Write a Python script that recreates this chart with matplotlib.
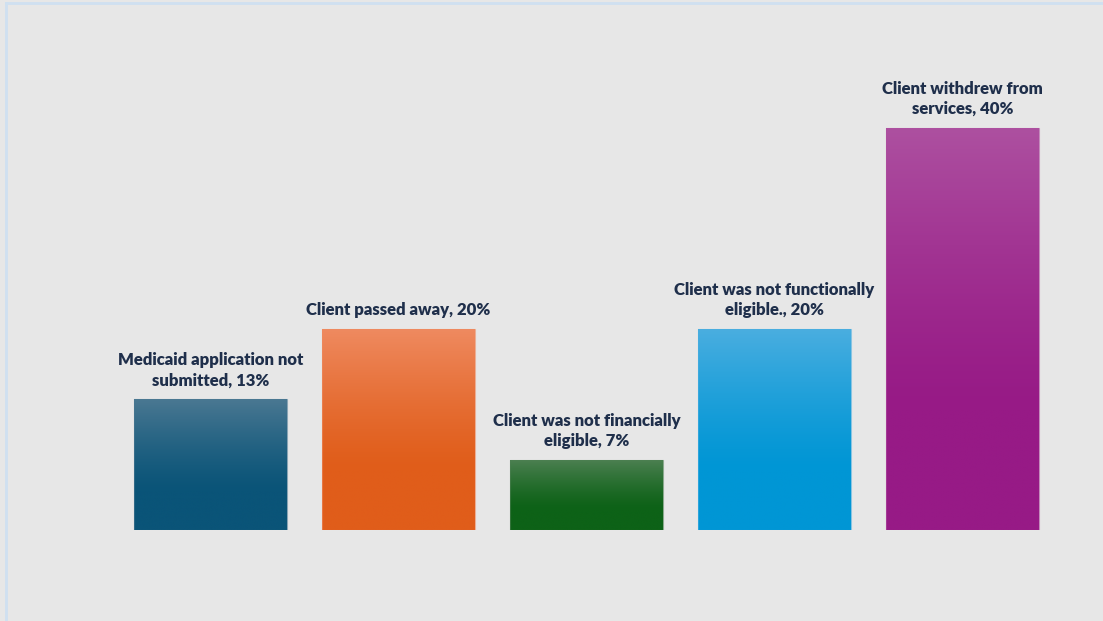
import matplotlib
matplotlib.use("Agg")
import matplotlib.pyplot as plt
import numpy as np
from matplotlib.colors import ListedColormap, to_rgb
from matplotlib.patches import Rectangle
from matplotlib.lines import Line2D

categories = ["Medicaid application not\nsubmitted",
              "Client passed away",
              "Client was not financially\neligible",
              "Client was not functionally\neligible.",
              "Client withdrew from\nservices"]
values = [13, 20, 7, 20, 40]
top_colors = ["#4a7892", "#ef8a60", "#4d8052", "#4aaee0", "#ad50a0"]
bottom_colors = ["#0a5478", "#e05d1a", "#0d6217", "#0096d5", "#971a86"]

plt.rcParams['font.family'] = ['Lato', 'DejaVu Sans']

W, H = 1103, 621
fig = plt.figure(figsize=(W / 100, H / 100), dpi=100)
fig.patch.set_facecolor("#e7e7e7")

# light blue frame (left and top)
fig.add_artist(Line2D([5.5 / W, 5.5 / W], [0, 1 - 3 / H], transform=fig.transFigure,
                      color="#cfe0f1", lw=2.0))
fig.add_artist(Line2D([5.5 / W, 1], [1 - 3 / H, 1 - 3 / H], transform=fig.transFigure,
                      color="#cfe0f1", lw=2.0))

ax_left, ax_right = 116.5, 1056.5
ax_bottom, ax_top = 530, 78
ax = fig.add_axes([ax_left / W, (H - ax_bottom) / H, (ax_right - ax_left) / W,
                   (ax_bottom - ax_top) / H])
ax.set_facecolor("none")
ymax = 45
ax.set_xlim(-0.5, len(values) - 0.5)
ax.set_ylim(0, ymax)
ax.axis("off")

width = 0.81
x = np.arange(len(values))
bars = ax.bar(x, values, width=width, color="none", edgecolor="none")
t = np.linspace(0, 1, 256)
f = np.clip((t - 0.3) / 0.7, 0, 1) ** 1.3
for i, (b, v) in enumerate(zip(bars, values)):
    c0 = np.array(to_rgb(bottom_colors[i]))
    c1 = np.array(to_rgb(top_colors[i]))
    cols = c0[None, :] * (1 - f[:, None]) + c1[None, :] * f[:, None]
    cmap = ListedColormap(cols)
    grad = t.reshape(-1, 1)
    x0 = b.get_x()
    im = ax.imshow(grad, extent=[x0, x0 + width, 0, v], origin="lower",
                   aspect="auto", cmap=cmap, zorder=2, interpolation="bilinear")
    clip = Rectangle((x0, 0), width, v, transform=ax.transData,
                     facecolor="none", edgecolor="none")
    ax.add_patch(clip)
    im.set_clip_path(clip)
    ax.add_patch(Rectangle((x0, 0), width, v, facecolor="none",
                           edgecolor=top_colors[i], lw=0.8, alpha=0.6, zorder=3))
    ax.annotate(f"{categories[i]}, {v}%", (i, v), xytext=(0, 8),
                textcoords="offset points", ha="center", va="bottom",
                fontsize=12, fontweight="heavy", color="#1f2f4b",
                linespacing=1.3, annotation_clip=False)
ax.set_xlim(-0.5, len(values) - 0.5)
ax.set_ylim(0, ymax)

fig.savefig("out.png", dpi=100, facecolor=fig.get_facecolor())
